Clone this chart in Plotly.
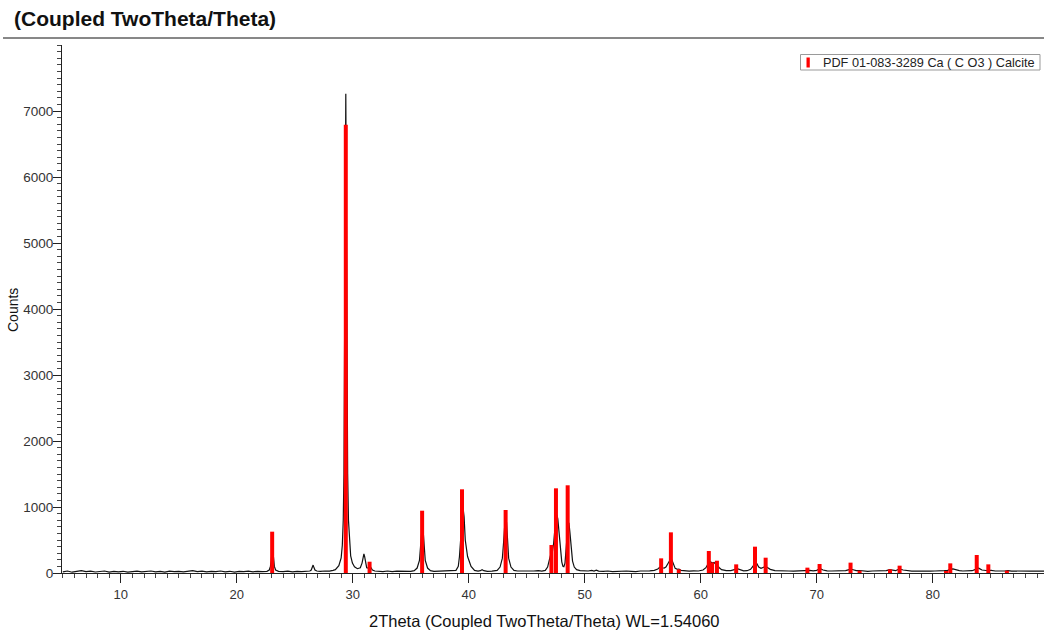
import plotly.graph_objects as go

# ---- measured diffraction trace (2theta in degrees, counts) ----
two_theta = [
    5.0, 5.4, 5.8, 6.2, 6.6, 7.0, 7.4, 7.8, 8.2, 8.6, 9.0, 9.4, 9.8, 10.2, 10.6, 11.0, 11.4, 11.8,
    12.2, 12.6, 13.0, 13.4, 13.8, 14.2, 14.6, 15.0, 15.4, 15.8, 16.2, 16.6, 17.0, 17.4, 17.8, 18.2,
    18.6, 19.0, 19.4, 19.8, 20.2, 20.6, 21.0, 21.4, 21.8, 22.2,
    22.6, 22.8, 22.9, 22.97, 23.0, 23.06, 23.12, 23.17, 23.24, 23.35, 23.6,
    24.0, 24.4, 24.8, 25.2, 25.6, 26.0, 26.3,
    26.42, 26.52, 26.58, 26.64, 26.74, 26.9, 27.2, 27.6, 28.0, 28.3,
    28.5, 28.8, 29.0, 29.1, 29.18, 29.24, 29.3, 29.35, 29.40, 29.45, 29.5, 29.56, 29.63, 29.72,
    29.82, 29.97, 30.15, 30.4, 30.65, 30.8, 30.9, 30.96, 31.02, 31.1, 31.2, 31.32, 31.42, 31.48,
    31.56, 31.7, 31.9, 32.2,
    32.6, 33.0, 33.4, 33.8, 34.2, 34.6, 35.0,
    35.3, 35.55, 35.75, 35.85, 35.93, 36.0, 36.07, 36.15, 36.25, 36.45, 36.7, 37.0,
    37.4, 37.8, 38.2, 38.6,
    38.9, 39.1, 39.2, 39.3, 39.4, 39.5, 39.6, 39.7, 39.9, 40.2, 40.5, 40.8, 41.0, 41.15,
    41.3, 41.6, 42.0, 42.2,
    42.45, 42.7, 42.9, 43.0, 43.08, 43.17, 43.26, 43.34, 43.44, 43.64, 43.9, 44.2, 44.5, 44.8,
    45.2, 45.6, 46.0, 46.3,
    46.6, 46.8, 46.95, 47.05, 47.13, 47.22, 47.32, 47.42, 47.52, 47.6, 47.68, 47.78, 47.9, 48.02,
    48.12, 48.2, 48.3, 48.4, 48.5, 48.58, 48.64, 48.72, 48.82, 48.95, 49.1, 49.3, 49.6, 49.9,
    50.3, 50.6, 50.8, 51.0, 51.2, 51.6,
    52.0, 52.4, 52.8, 53.2, 53.6, 54.0, 54.4, 54.8, 55.2, 55.6, 56.0, 56.3,
    56.45, 56.6, 56.72, 56.85, 57.0, 57.15, 57.3, 57.42, 57.52, 57.65, 57.8, 58.0, 58.12, 58.3,
    58.6, 59.0, 59.4, 59.8, 60.2, 60.45, 60.6, 60.72, 60.85, 61.0, 61.15, 61.3, 61.45, 61.6, 61.8,
    62.2, 62.6, 62.9, 63.05, 63.2, 63.4, 63.7, 64.0, 64.3, 64.5, 64.63, 64.72, 64.85, 65.0, 65.2,
    65.45, 65.6, 65.75, 66.0, 66.4, 66.8, 67.2, 67.6, 68.0, 68.4, 68.8, 69.05, 69.2, 69.4, 69.7,
    70.0, 70.2, 70.35, 70.55, 70.9, 71.3, 71.7, 72.1, 72.5, 72.8, 72.95, 73.15, 73.4, 73.7, 74.0,
    74.4, 74.8, 75.2, 75.6, 76.0, 76.3, 76.5, 76.8, 77.05, 77.2, 77.45, 77.8, 78.2, 78.6, 79.0,
    79.4, 79.8, 80.2, 80.6, 81.0, 81.3, 81.55, 81.75, 82.0, 82.3, 82.6, 83.0, 83.4, 83.7, 83.85,
    84.0, 84.25, 84.6, 84.85, 85.05, 85.4, 85.8, 86.2, 86.5, 86.8, 87.2, 87.6, 88.0, 88.4, 88.8,
    89.2, 89.6,
]
counts = [
    18, 30, 12, 25, 35, 20, 28, 15, 22, 30, 14, 24, 18, 26, 12, 20, 28, 16,
    22, 30, 18, 25, 14, 28, 20, 26, 18, 30, 35, 22, 28, 16, 24, 20,
    30, 18, 26, 14, 24, 20, 28, 18, 26, 20,
    25, 45, 100, 190, 320, 380, 320, 190, 100, 45, 25,
    20, 28, 18, 26, 20, 28, 30,
    45, 90, 120, 90, 45, 30, 25, 30, 28, 40,
    50, 110, 230, 420, 800, 1500, 3000, 5500, 7260, 5500, 3000, 1500, 800, 450,
    260, 150, 95, 65, 80, 150, 250, 290, 250, 140, 80, 75, 115, 120,
    80, 45, 30, 25,
    22, 30, 20, 28, 24, 30, 26,
    35, 75, 190, 380, 640, 750, 640, 380, 190, 75, 35, 25,
    28, 22, 30, 35,
    40, 100, 250, 500, 850, 1000, 850, 500, 250, 100, 40, 30, 35, 50,
    35, 25, 28, 35,
    40, 90, 225, 450, 765, 900, 765, 450, 225, 90, 40, 30, 28, 30,
    22, 30, 35, 30,
    40, 90, 200, 290, 320, 330, 450, 650, 830, 880, 820, 600, 330, 170,
    100, 95, 150, 320, 600, 740, 760, 620, 380, 180, 90, 50, 35, 28,
    30, 40, 30, 42, 28, 25,
    30, 22, 28, 24, 30, 26, 22, 30, 26, 32, 40, 60,
    85, 100, 80, 75, 90, 130, 190, 215, 195, 120, 70, 55, 60, 40,
    30, 28, 32, 30, 45, 80, 130, 170, 170, 150, 160, 140, 110, 80, 50,
    35, 35, 50, 65, 62, 45, 32, 35, 55, 100, 160, 175, 140, 90, 70,
    90, 100, 85, 55, 35, 30, 26, 30, 28, 32, 35, 45, 48, 40, 32,
    40, 60, 62, 45, 32, 30, 28, 30, 35, 50, 60, 50, 35, 38, 30,
    26, 30, 28, 30, 35, 50, 45, 35, 55, 60, 45, 32, 28, 30, 26,
    30, 28, 30, 28, 35, 40, 60, 62, 45, 35, 30, 28, 35, 55, 80,
    70, 45, 38, 45, 40, 30, 28, 30, 36, 28, 30, 26, 30, 28, 30,
    26, 28,
]

# ---- reference pattern PDF 01-083-3289 Calcite (stick positions / intensities) ----
ref_pos = [23.05, 29.40, 31.45, 35.98, 39.42, 43.18, 47.13, 47.52, 48.53, 56.59, 57.43, 58.11,
           60.70, 60.98, 61.40, 63.06, 64.68, 65.60, 69.20, 70.25, 72.92, 73.70, 76.32, 77.15,
           81.15, 81.52, 83.80, 84.80, 86.40]
ref_int = [626, 6790, 171, 944, 1268, 955, 424, 1283, 1329, 222, 616, 56,
           333, 160, 186, 131, 399, 232, 81, 136, 157, 35, 56, 111,
           30, 146, 273, 131, 35]

ytick_vals = [0, 1000, 2000, 3000, 4000, 5000, 6000, 7000]
xtick_vals = [10, 20, 30, 40, 50, 60, 70, 80]
legend_name = "PDF 01-083-3289 Ca ( C O3 ) Calcite"

stick_x, stick_y = [], []
for p, h in zip(ref_pos, ref_int):
    stick_x += [p, p, None]
    stick_y += [0, h, None]

W, H = 1044, 633
ML, MR, MT, MB = 62, 0, 45, 60
pw, ph = W - ML - MR, H - MT - MB

def px(xp):
    return (xp - ML) / pw

def py(yp):
    return (H - MB - yp) / ph

FONT = "Liberation Sans, Arial, sans-serif"

fig = go.Figure()
fig.add_trace(go.Scatter(x=two_theta, y=counts, mode="lines",
                         line=dict(color="#111111", width=1.2),
                         showlegend=False, hoverinfo="skip"))
fig.add_trace(go.Scatter(x=stick_x, y=stick_y, mode="lines", name=legend_name,
                         line=dict(color="#ff0000", width=4),
                         showlegend=False, hoverinfo="skip"))

fig.update_layout(
    width=W, height=H,
    margin=dict(l=ML, r=MR, t=MT, b=MB),
    paper_bgcolor="white", plot_bgcolor="white",
    font=dict(family=FONT, color="#333333", size=12),
    showlegend=False,
    xaxis=dict(range=[4.93, 89.6], tickmode="array", tickvals=xtick_vals,
               ticks="outside", ticklen=9, tickcolor="#222222",
               showline=True, linecolor="#222222", linewidth=1,
               showgrid=False, zeroline=False,
               tickfont=dict(size=13, color="#333333"),
               minor=dict(dtick=1, tick0=0, ticks="outside", ticklen=4, tickcolor="#444444",
                          showgrid=False)),
    yaxis=dict(range=[0, 8000], tickmode="array", tickvals=ytick_vals,
               ticks="outside", ticklen=8, tickcolor="#222222",
               showline=True, linecolor="#222222", linewidth=1,
               showgrid=False, zeroline=False, ticklabelstandoff=-3,
               tickfont=dict(size=13.5, color="#333333"),
               minor=dict(dtick=100, tick0=0, ticks="outside", ticklen=4, tickcolor="#444444",
                          showgrid=False)),
    shapes=[
        # rule under the title
        dict(type="line", xref="paper", yref="paper",
             x0=px(3), x1=1.0, y0=py(38), y1=py(38),
             line=dict(color="#111111", width=1)),
        # legend frame
        dict(type="rect", xref="paper", yref="paper",
             x0=px(800.5), x1=px(1040), y0=py(54.5), y1=py(70),
             line=dict(color="#9a9a9a", width=1), fillcolor="white", layer="above"),
        # legend key (red stick)
        dict(type="rect", xref="paper", yref="paper",
             x0=px(806.5), x1=px(809.8), y0=py(57.5), y1=py(67.5),
             line=dict(width=0), fillcolor="#ff0000", layer="above"),
    ],
    annotations=[
        dict(text="<b>(Coupled TwoTheta/Theta)</b>", xref="paper", yref="paper",
             x=px(12), y=py(18), xanchor="left", yanchor="middle", showarrow=False,
             font=dict(size=21, color="#111111", family=FONT)),
        dict(text="Counts", xref="paper", yref="paper", textangle=-90,
             x=px(13), y=py(310), xanchor="center", yanchor="middle", showarrow=False,
             font=dict(size=14, color="#111111", family=FONT)),
        dict(text="2Theta (Coupled TwoTheta/Theta) WL=1.54060", xref="paper", yref="paper",
             x=px(544), y=py(621), xanchor="center", yanchor="middle", showarrow=False,
             font=dict(size=16.5, color="#111111", family=FONT)),
        dict(text=legend_name, xref="paper", yref="paper",
             x=px(821), y=py(62.5), xanchor="left", yanchor="middle", showarrow=False,
             font=dict(size=12.7, color="#222222", family=FONT)),
    ],
)

fig.write_html("out.html")
